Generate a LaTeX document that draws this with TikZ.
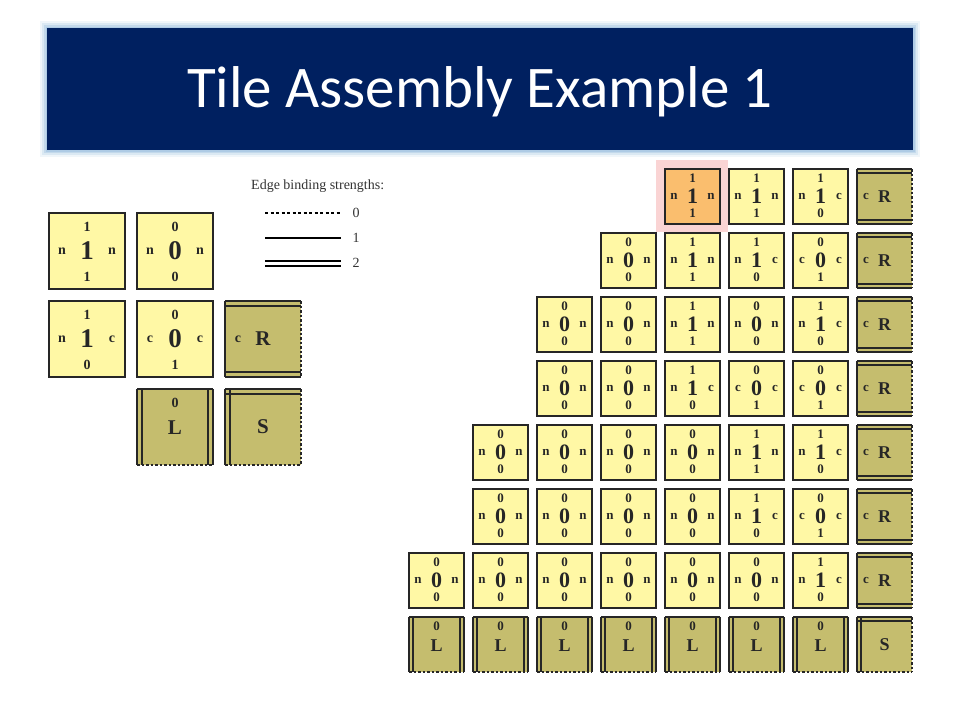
\documentclass[tikz,border=0pt]{standalone}
\usepackage{fontspec}
\setmainfont{Liberation Serif}
\newfontfamily\titlefont{Carlito}
\definecolor{navy}{RGB}{0,32,96}
\definecolor{glowblue}{RGB}{160,195,225}
\definecolor{tileyellow}{RGB}{255,248,165}
\definecolor{tileolive}{RGB}{197,189,110}
\definecolor{tileorange}{RGB}{250,190,110}
\definecolor{hlpink}{RGB}{250,212,212}
\def\tsize{76}\def\th{38}\def\ti{14}\def\bi{12}\def\si{13}\def\dd{5}\def\lw{2}\def\bw{2}
\def\cf{\fontsize{27}{27}\selectfont}\def\ef{\fontsize{14}{14}\selectfont}\def\Rf{\fontsize{21}{21}\selectfont}
\tikzset{
  tilebody/.style={minimum size=\tsize pt, inner sep=0pt, outer sep=0pt, draw=none},
  edgeone/.style={line width=\lw pt, black!85},
  edgezero/.style={edgeone, dash pattern=on 2.5pt off 2pt},
  clab/.style={inner sep=0pt, font=\cf\bfseries, text=black!85},
  elab/.style={inner sep=0pt, font=\ef\bfseries, text=black!85},
  Rlab/.style={inner sep=0pt, font=\Rf\bfseries, text=black!85},
}
\newcommand\ytile[9][tileyellow]{%
  \node[tilebody,fill=#1] (#2) at ({#3+\th},{#4+\th}) {};
  \draw[edgeone] (#2.south west) rectangle (#2.north east);
  \draw[edgeone,line width=\bw pt] (#2.south west) -- (#2.south east);
  \node[clab] at (#2.center) {#7};
  \node[elab] at ([yshift=-\ti pt]#2.north) {#5};
  \node[elab] at ([yshift=\bi pt]#2.south) {#9};
  \node[elab] at ([xshift=\si pt]#2.west) {#6};
  \node[elab] at ([xshift=-\si pt]#2.east) {#8};
}
\newcommand\Rtile[3]{%
  \node[tilebody,fill=tileolive] (#1) at ({#2+\th},{#3+\th}) {};
  \draw[edgeone] (#1.north west) -- (#1.south west);
  \draw[edgezero] (#1.north east) -- (#1.south east);
  \draw[edgeone] (#1.north west) -- (#1.north east);
  \draw[edgeone] ([yshift=-\dd pt]#1.north west) -- ([yshift=-\dd pt]#1.north east);
  \draw[edgeone] (#1.south west) -- (#1.south east);
  \draw[edgeone] ([yshift=\dd pt]#1.south west) -- ([yshift=\dd pt]#1.south east);
  \node[elab] at ([xshift=\si pt]#1.west) {c};
  \node[Rlab] at (#1.center) {R};
}
\newcommand\Ltile[3]{%
  \node[tilebody,fill=tileolive] (#1) at ({#2+\th},{#3+\th}) {};
  \draw[edgeone] (#1.north west) -- (#1.north east);
  \draw[edgezero] (#1.south west) -- (#1.south east);
  \draw[edgeone] (#1.north west) -- (#1.south west);
  \draw[edgeone] ([xshift=\dd pt]#1.north west) -- ([xshift=\dd pt]#1.south west);
  \draw[edgeone] (#1.north east) -- (#1.south east);
  \draw[edgeone] ([xshift=-\dd pt]#1.north east) -- ([xshift=-\dd pt]#1.south east);
  \node[elab] at ([yshift=-\ti pt]#1.north) {0};
  \node[Rlab] at ([yshift=-1pt]#1.center) {L};
}
\newcommand\Stile[3]{%
  \node[tilebody,fill=tileolive] (#1) at ({#2+\th},{#3+\th}) {};
  \draw[edgezero] (#1.north east) -- (#1.south east);
  \draw[edgezero] (#1.south west) -- (#1.south east);
  \draw[edgeone] (#1.north west) -- (#1.north east);
  \draw[edgeone] ([yshift=-\dd pt]#1.north west) -- ([yshift=-\dd pt]#1.north east);
  \draw[edgeone] (#1.north west) -- (#1.south west);
  \draw[edgeone] ([xshift=\dd pt]#1.north west) -- ([xshift=\dd pt]#1.south west);
  \node[Rlab] at (#1.center) {S};
}
\newcommand\gy[7]{\ytile{g#1#2}{409+64*#2}{169+64*#1}{#3}{#4}{#5}{#6}{#7}}
\newcommand\gR[1]{\Rtile{gR#1}{857}{169+64*#1}}
\newcommand\gL[1]{\Ltile{gL#1}{409+64*#1}{617}}
\begin{document}
\begin{tikzpicture}[x=1pt,y=-1pt]
\useasboundingbox (0,0) rectangle (960,720);
\fill[white] (0,0) rectangle (960,720);
% title banner
\foreach \g/\o in {7/0.15,5/0.25,3/0.4,1.5/0.6}
  \fill[glowblue,opacity=\o] (47-\g,28-\g) rectangle (913+\g,150+\g);
\fill[navy] (47,28) rectangle (913,150);
\node[text=white, font=\titlefont\fontsize{59}{59}\selectfont, inner sep=0pt] (title) at (480,92) {Tile Assembly Example 1};
% legend
\node[anchor=west, inner sep=0pt, font=\fontsize{14}{14}\selectfont, text=black!80] (legtitle) at (251,186) {Edge binding strengths:};
\coordinate (d0a) at (265,213); \coordinate (d0b) at (341,213);
\coordinate (d1a) at (265,238); \coordinate (d1b) at (341,238);
\coordinate (d2a) at (265,261); \coordinate (d2b) at (341,261);
\coordinate (d2c) at (265,266); \coordinate (d2d) at (341,266);
\draw[line width=1.4pt, dash pattern=on 3pt off 2.5pt] (d0a) -- (d0b);
\draw[line width=1.6pt] (d1a) -- (d1b);
\draw[line width=1.6pt] (d2a) -- (d2b);
\draw[line width=1.6pt] (d2c) -- (d2d);
\node[inner sep=0pt, font=\fontsize{14}{14}\selectfont, text=black!80] (leg0) at (356,213) {0};
\node[inner sep=0pt, font=\fontsize{14}{14}\selectfont, text=black!80] (leg1) at (356,238) {1};
\node[inner sep=0pt, font=\fontsize{14}{14}\selectfont, text=black!80] (leg2) at (356,263) {2};
% tile set
\ytile{a11}{49}{213}{1}{n}{1}{n}{1}
\ytile{a00}{137}{213}{0}{n}{0}{n}{0}
\ytile{a10}{49}{301}{1}{n}{1}{c}{0}
\ytile{a01}{137}{301}{0}{c}{0}{c}{1}
\Rtile{aR}{225}{301}
\Ltile{aL}{137}{389}
\Stile{aS}{225}{389}
% assembly grid
\def\tsize{55}\def\th{27.5}\def\ti{9.5}\def\bi{11}\def\si{9}\def\dd{4}\def\lw{1.2}\def\bw{2.4}
\def\cf{\fontsize{22}{22}\selectfont}\def\ef{\fontsize{13}{13}\selectfont}\def\Rf{\fontsize{18}{18}\selectfont}
\fill[hlpink] (656,160) rectangle (728,232);
\ytile[tileorange]{g04}{665}{169}{1}{n}{1}{n}{1}
\gy{0}{5}{1}{n}{1}{n}{1}
\gy{0}{6}{1}{n}{1}{c}{0}
\gy{1}{3}{0}{n}{0}{n}{0}
\gy{1}{4}{1}{n}{1}{n}{1}
\gy{1}{5}{1}{n}{1}{c}{0}
\gy{1}{6}{0}{c}{0}{c}{1}
\gy{2}{2}{0}{n}{0}{n}{0}
\gy{2}{3}{0}{n}{0}{n}{0}
\gy{2}{4}{1}{n}{1}{n}{1}
\gy{2}{5}{0}{n}{0}{n}{0}
\gy{2}{6}{1}{n}{1}{c}{0}
\gy{3}{2}{0}{n}{0}{n}{0}
\gy{3}{3}{0}{n}{0}{n}{0}
\gy{3}{4}{1}{n}{1}{c}{0}
\gy{3}{5}{0}{c}{0}{c}{1}
\gy{3}{6}{0}{c}{0}{c}{1}
\foreach \c in {1,...,4} {\gy{4}{\c}{0}{n}{0}{n}{0}}
\gy{4}{5}{1}{n}{1}{n}{1}
\gy{4}{6}{1}{n}{1}{c}{0}
\foreach \c in {1,...,4} {\gy{5}{\c}{0}{n}{0}{n}{0}}
\gy{5}{5}{1}{n}{1}{c}{0}
\gy{5}{6}{0}{c}{0}{c}{1}
\foreach \c in {0,...,5} {\gy{6}{\c}{0}{n}{0}{n}{0}}
\gy{6}{6}{1}{n}{1}{c}{0}
\foreach \r in {0,...,6} {\gR{\r}}
\foreach \c in {0,...,6} {\gL{\c}}
\Stile{gS}{857}{617}
\end{tikzpicture}
\end{document}
